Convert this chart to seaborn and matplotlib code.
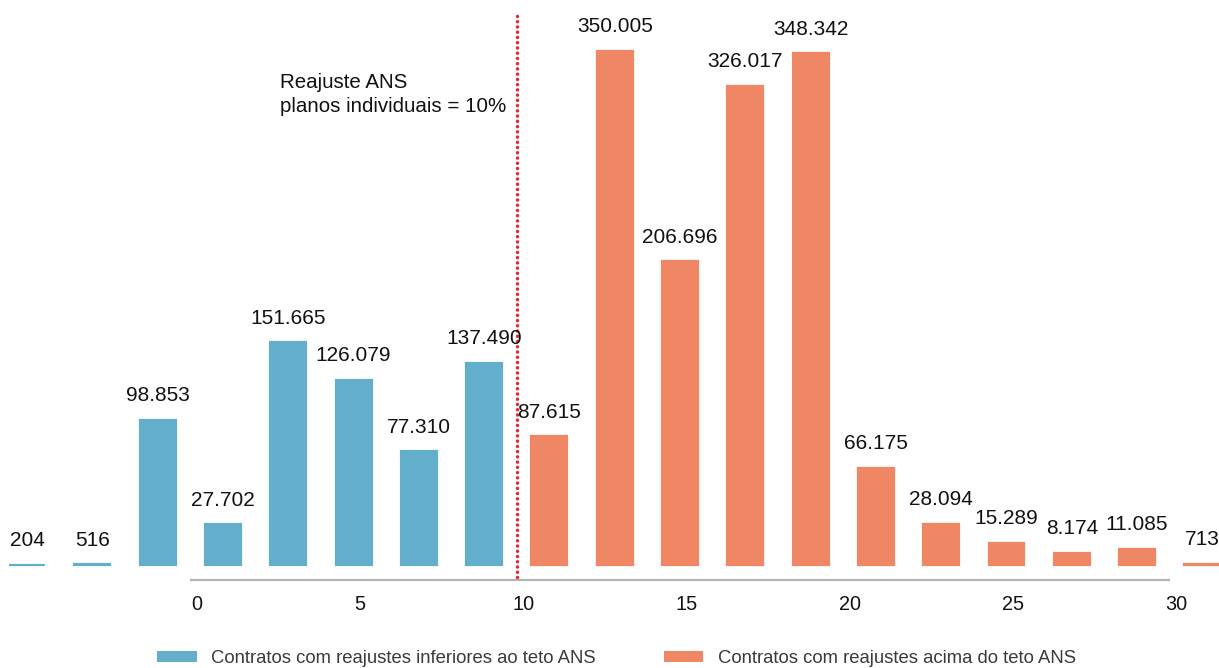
import numpy as np
import pandas as pd
import matplotlib
matplotlib.use('Agg')
import matplotlib.pyplot as plt
from matplotlib.patches import Patch
import seaborn as sns

# Data: reajuste bins (bin centers, %) and number of contracts
bin_centers = [-5, -3, -1, 1, 3, 5, 7, 9, 11, 13, 15, 17, 19, 21, 23, 25, 27, 29, 31]
contratos = [204, 516, 98853, 27702, 151665, 126079, 77310, 137490,
             87615, 350005, 206696, 326017, 348342, 66175, 28094, 15289, 8174, 11085, 713]
labels = ['204', '516', '98.853', '27.702', '151.665', '126.079', '77.310', '137.490',
          '87.615', '350.005', '206.696', '326.017', '348.342', '66.175', '28.094',
          '15.289', '8.174', '11.085', '713']
grupo_inf = 'Contratos com reajustes inferiores ao teto ANS'
grupo_sup = 'Contratos com reajustes acima do teto ANS'
teto_ans = 10
x_ticks = [0, 5, 10, 15, 20, 25, 30]

df = pd.DataFrame({'bin': bin_centers, 'contratos': contratos, 'label': labels})
df['grupo'] = np.where(df['bin'] < teto_ans, grupo_inf, grupo_sup)

blue = '#63AECA'
orange = '#F08764'
palette = {grupo_inf: blue, grupo_sup: orange}

sns.set_style('white')
plt.rcParams['font.family'] = ['Liberation Sans', 'DejaVu Sans']

fig = plt.figure(figsize=(12.19, 6.68), dpi=100)
# axes spans full width, top of figure down to 585 px
ax = fig.add_axes([0, (668 - 585) / 668, 1, 585 / 668])

# data units per pixel (vertical)
PX = max(contratos) / 514.3

sns.barplot(data=df, x='bin', y='contratos', hue='grupo', palette=palette,
            native_scale=True, dodge=False, width=0.55, linewidth=1.6,
            edgecolor=None, saturation=1, ax=ax, legend=False)
for bar in ax.patches:
    bar.set_edgecolor(bar.get_facecolor())

ax.set_xlim(-5.83, 31.51)
ax.set_ylim(-20 * PX, 565 * PX)

# value labels
for xb, yb, lab in zip(df['bin'], df['contratos'], df['label']):
    ax.annotate(lab, (xb, yb), xytext=(0, 10.5), textcoords='offset points',
                ha='center', va='bottom', fontsize=15, color='#111111')

# baseline axis
ax.hlines(-15 * PX, 0, 30, color='#b3b3b3', linewidth=1.6)

# teto ANS dotted line
ax.plot([teto_ans, teto_ans], [-12 * PX, 553 * PX], color='#E8262B', linewidth=2.5,
        linestyle=(0, (0.01, 1.5)), dash_capstyle='round', solid_capstyle='round')
ax.text(teto_ans - 0.33, 492 * PX, 'Reajuste ANS\nplanos individuais = 10%',
        ha='right', va='top', multialignment='left', fontsize=14.8,
        color='#111111', linespacing=1.3)

# tick labels sit slightly right of the bin edges in the original
ax.set_xticks([t + 0.2 for t in x_ticks])
ax.set_xticklabels([str(t) for t in x_ticks], fontsize=14.3, color='#111111')
ax.tick_params(axis='x', length=0, pad=7)
ax.set_yticks([])
ax.set_xlabel('')
ax.set_ylabel('')
sns.despine(ax=ax, left=True, bottom=True)

handles = [Patch(facecolor=blue, edgecolor='none', label=grupo_inf),
           Patch(facecolor=orange, edgecolor='none', label=grupo_sup)]
fig.legend(handles=handles, loc='lower left', bbox_to_anchor=(157 / 1219, 1 / 668),
           ncol=2, frameon=False, fontsize=13.3, handlelength=2.15, handleheight=0.6,
           handletextpad=0.8, columnspacing=3.65, borderpad=0, borderaxespad=0,
           labelcolor='#3a3a3a')

fig.savefig('out.png', dpi=100)
